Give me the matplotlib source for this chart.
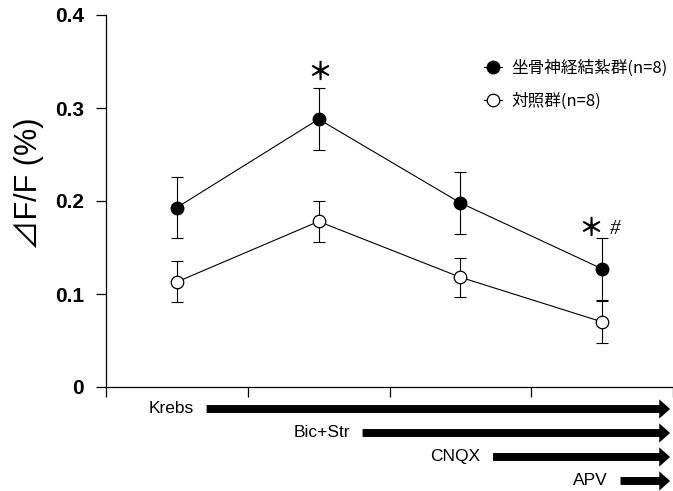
import matplotlib
matplotlib.use('Agg')
import matplotlib.pyplot as plt
from matplotlib.patches import FancyArrow

plt.rcParams['font.family'] = ['Liberation Sans', 'Noto Sans CJK JP', 'DejaVu Sans']

# ---- data ----
x_pos = [0.5, 1.5, 2.5, 3.5]
sni_mean = [0.193, 0.288, 0.198, 0.127]
sni_err = [0.033, 0.033, 0.033, 0.033]
ctrl_mean = [0.113, 0.178, 0.118, 0.070]
ctrl_err = [0.022, 0.022, 0.021, 0.023]
x_ticks = [0, 1, 2, 3, 4]
y_ticks = [0, 0.1, 0.2, 0.3, 0.4]
y_ticklabels = ['0', '0.1', '0.2', '0.3', '0.4']
legend_labels = ['坐骨神経結紮群(n=8)', '対照群(n=8)']
drugs = ['Krebs', 'Bic+Str', 'CNQX', 'APV']
drug_start = [0.71, 1.81, 2.73, 3.63]
drug_end = 3.98

fig = plt.figure(figsize=(6.73, 4.91), dpi=100)
ax = fig.add_axes([106/673, 104/491, 567/673, 372/491])
ax.set_xlim(0, 4)
ax.set_ylim(0, 0.4)
for s in ['top', 'right']:
    ax.spines[s].set_visible(False)
for s in ['left', 'bottom']:
    ax.spines[s].set_linewidth(0.9)
ax.set_xticks(x_ticks)
ax.set_xticklabels([])
ax.set_yticks(y_ticks)
ax.set_yticklabels(y_ticklabels, fontsize=15, fontweight='bold')
ax.tick_params(axis='both', direction='out', length=7, width=0.9)
ax.tick_params(axis='y', pad=9)

ax.errorbar(x_pos, sni_mean, yerr=sni_err, fmt='none', ecolor='black',
            elinewidth=0.8, capsize=4, capthick=0.8, zorder=2)
ax.errorbar(x_pos, ctrl_mean, yerr=ctrl_err, fmt='none', ecolor='black',
            elinewidth=0.8, capsize=4, capthick=0.8, zorder=2)
l1, = ax.plot(x_pos, sni_mean, '-o', color='black', mfc='black', mec='black',
              ms=9, lw=0.8, zorder=3, clip_on=False)
l2, = ax.plot(x_pos, ctrl_mean, '-o', color='black', mfc='white', mec='black',
              ms=9, mew=0.9, lw=0.8, zorder=3, clip_on=False)

# significance marks
ax.text(1.51, 0.338, '＊', ha='center', va='center', fontsize=18, fontweight='bold',
        family=['Noto Sans CJK JP', 'DejaVu Sans'])
ax.text(3.42, 0.170, '＊', ha='center', va='center', fontsize=18, fontweight='bold',
        family=['Noto Sans CJK JP', 'DejaVu Sans'])
ax.text(3.59, 0.169, '#', ha='center', va='center', fontsize=15,
        family=['Liberation Serif'], style='italic')

ax.legend([l1, l2], legend_labels, loc='upper left',
          bbox_to_anchor=(484/673, 1-60/491), bbox_transform=fig.transFigure,
          frameon=False, handlelength=1.1, handletextpad=0.55, labelspacing=0.9,
          borderpad=0, borderaxespad=0,
          prop={'family': ['Noto Sans CJK JP', 'DejaVu Sans'], 'size': 12})

fig.text(29/673, 1-184/491, '⊿F/F (%)', rotation=90, ha='center', va='center',
         fontsize=22, family=['Liberation Sans', 'Noto Sans CJK JP', 'DejaVu Sans'])

# drug application arrows
aax = fig.add_axes([106/673, 0, 567/673, 94/491])
aax.set_xlim(0, 4)
aax.set_ylim(3.417, -0.5)
aax.axis('off')
for i, (name, st) in enumerate(zip(drugs, drug_start)):
    arr = FancyArrow(st, i, drug_end - st, 0, width=0.33, head_width=0.8,
                     head_length=0.077, length_includes_head=True,
                     color='black', lw=0)
    aax.add_patch(arr)
    aax.text(st - 0.09, i, name, ha='right', va='center', fontsize=12.5)

fig.savefig('out.png', dpi=100)
